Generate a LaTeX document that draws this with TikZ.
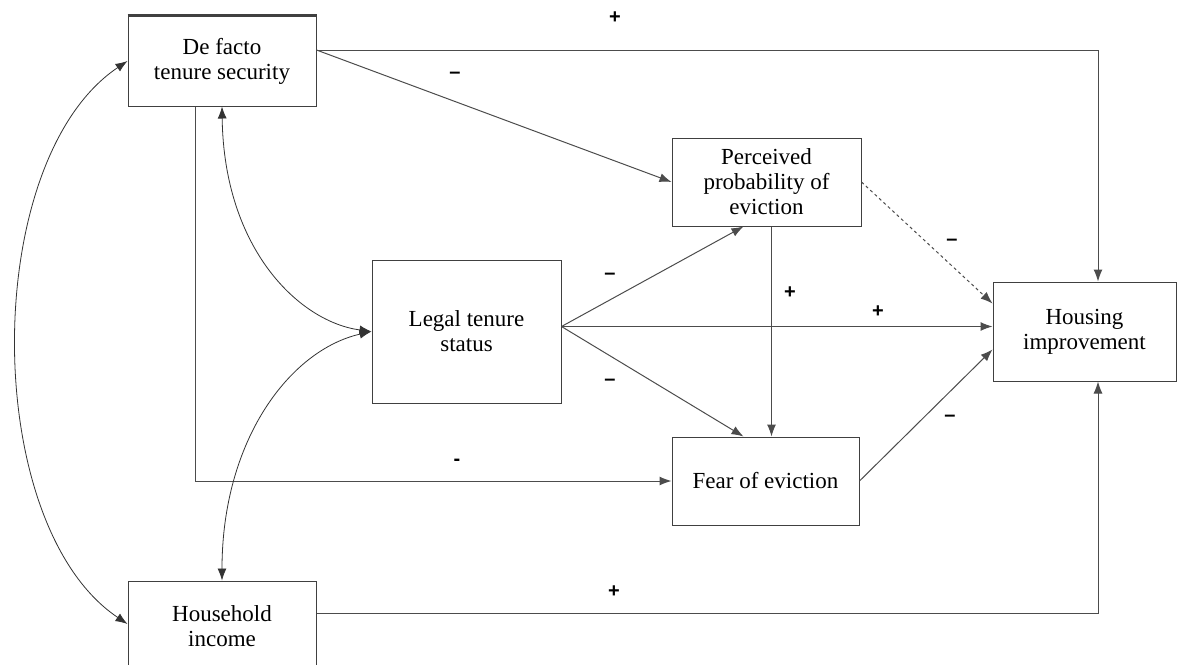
\documentclass[tikz,border=0pt]{standalone}
\usepackage{fontspec}
\setmainfont{Liberation Serif}
\newfontfamily\signfont{Liberation Sans}
\usetikzlibrary{arrows.meta,calc}

\tikzset{
	box/.style={draw=black!75, line width=1pt, align=center, font=\fontsize{23}{25}\selectfont},
	sign/.style={font=\signfont\bfseries\fontsize{20}{20}\selectfont, inner sep=0pt},
	link/.style={draw=black!70, line width=1pt, ->},
	corr/.style={draw=black!80, line width=0.8pt, <->},
}

\begin{document}
\begin{tikzpicture}[x=1pt,y=-1pt,>={Latex[length=12pt,width=9pt]}]
	\useasboundingbox (0,0) rectangle (1178,664);

	% boxes
	\node[box, minimum width=188pt, minimum height=90pt] (df) at (222,61) {De facto\\tenure security};
	\node[box, minimum width=189pt, minimum height=88pt] (pp) at (766.5,182) {Perceived\\probability of\\eviction};
	\node[box, minimum width=189pt, minimum height=143pt] (lt) at (466.5,331.5) {Legal tenure\\status};
	\node[box, minimum width=183pt, minimum height=99pt] (hi) at (1084.5,331.5) {Housing\\improvement};
	\node[box, minimum width=187pt, minimum height=88pt] (fe) at (765.5,481) {Fear of eviction};
	\node[box, minimum width=188pt, minimum height=90pt] (hh) at (222,626) {Household\\income};
	\draw[black!75, line width=2.5pt] (df.north west) -- (df.north east);

	\coordinate (ppf) at ([xshift=5pt]pp.south);

	% paths
	\draw[link] ([yshift=11pt]df.east) -| ([xshift=13.5pt]hi.north);
	\draw[link] ([yshift=11pt]df.east) -- (pp.west);
	\draw[link] ([xshift=-27pt]df.south) |- (fe.west);
	\draw[link] ([yshift=5pt]lt.east) -- ([xshift=-23pt]pp.south);
	\draw[link] ([yshift=5pt]lt.east) -- ([yshift=5pt]hi.west);
	\draw[link] ([yshift=5pt]lt.east) -- ([xshift=-22pt]fe.north);
	\draw[link] (ppf) -- (ppf |- fe.north);
	\draw[link, dashed] (pp.east) -- ([yshift=28pt]hi.west);
	\draw[link] (fe.east) -- ([yshift=-18pt]hi.west);
	\draw[link] ([yshift=13pt]hh.east) -| ([xshift=13.5pt]hi.south);

	% correlations
	\draw[corr] (df.west) .. controls (-20,160) and (-20,525) .. ([yshift=2pt]hh.west);
	\draw[corr] (df.south) .. controls (224,250) and (300,322) .. (lt.west);
	\draw[corr] (lt.west) .. controls (290,350) and (222,440) .. (hh.north);

	% signs
	\node[sign] (s1) at (615,18) {+};
	\node[sign] (s2) at (455,75) {–};
	\node[sign] (s3) at (610,276) {–};
	\node[sign] (s4) at (790,293) {+};
	\node[sign] (s5) at (610,382) {–};
	\node[sign] (s6) at (952,242) {–};
	\node[sign] (s7) at (878,312) {+};
	\node[sign] (s8) at (950,418) {–};
	\node[sign] (s9) at (457,462) {-};
	\node[sign] (s10) at (614,592) {+};

\end{tikzpicture}
\end{document}
